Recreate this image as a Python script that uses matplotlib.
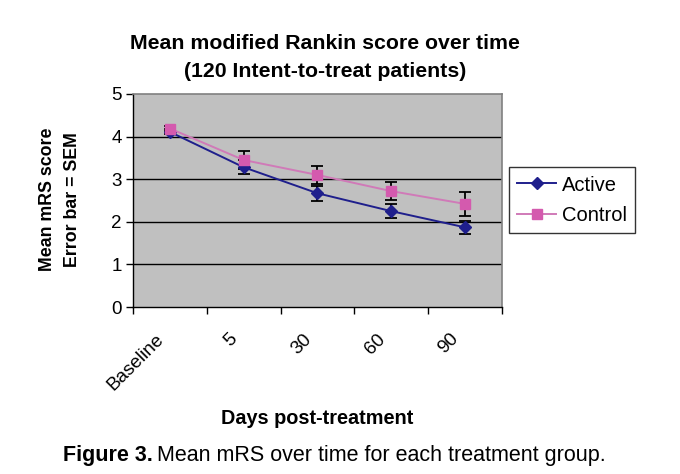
import matplotlib.pyplot as plt
import matplotlib.transforms as mtransforms
import numpy as np

plt.rcParams['font.family'] = ['Liberation Sans', 'DejaVu Sans']

# Data
days = ['Baseline', '5', '30', '60', '90']
active_mean = [4.11, 3.28, 2.67, 2.25, 1.87]
active_sem = [0.06, 0.16, 0.17, 0.16, 0.16]
control_mean = [4.19, 3.45, 3.10, 2.72, 2.42]
control_sem = [0.06, 0.21, 0.22, 0.21, 0.28]

x = np.arange(len(days))

fig = plt.figure(figsize=(6.8, 4.74), dpi=100)
ax = fig.add_axes([0.1956, 0.3523, 0.5426, 0.4494])
ax.set_facecolor('#C0C0C0')

# horizontal gridlines
for yv in [1, 2, 3, 4]:
    ax.axhline(yv, color='black', linewidth=1, zorder=1)

ax.errorbar(x, active_mean, yerr=active_sem, fmt='none', ecolor='black',
            elinewidth=1.3, capsize=4, capthick=1.3, zorder=2)
ax.errorbar(x, control_mean, yerr=control_sem, fmt='none', ecolor='black',
            elinewidth=1.3, capsize=4, capthick=1.3, zorder=2)

ax.plot(x, active_mean, color='#1F1F8C', linewidth=1.4, marker='D',
        markersize=6, label='Active', zorder=3)
ax.plot(x, control_mean, color='#D07AB8', linewidth=1.4, marker='s',
        markersize=6.5, markerfacecolor='#D45AAE', markeredgecolor='#D45AAE',
        label='Control', zorder=4)

ax.set_xlim(-0.5, 4.5)
ax.set_ylim(0, 5)
ax.set_yticks([0, 1, 2, 3, 4, 5])
ax.set_xticks(np.arange(-0.5, 5.0, 1.0))
ax.set_xticklabels([])
ax.set_xticks(x, minor=True)
ax.set_xticklabels(days, minor=True, rotation=45, ha='right', va='top',
                   rotation_mode='anchor', fontsize=13.6)
ax.tick_params(axis='x', which='minor', length=0, pad=14)
ax.tick_params(axis='x', which='major', direction='out', length=5, width=1)
ax.tick_params(axis='y', direction='out', length=5, width=1, labelsize=13.5, pad=3)

# nudge the rotated labels left/down like the original
shift = mtransforms.ScaledTranslation(-15 / 100, -4 / 100, fig.dpi_scale_trans)
for lbl in ax.get_xticklabels(minor=True):
    lbl.set_transform(lbl.get_transform() + shift)

for s in ['top', 'right']:
    ax.spines[s].set_color('#808080')
    ax.spines[s].set_linewidth(1.2)
for s in ['left', 'bottom']:
    ax.spines[s].set_color('black')
    ax.spines[s].set_linewidth(1)

leg = ax.legend(loc='upper left', bbox_to_anchor=(1.02, 0.655), fontsize=14.5,
                frameon=True, fancybox=False, edgecolor='black',
                handlelength=1.9, borderpad=0.4, labelspacing=0.55,
                handletextpad=0.3, borderaxespad=0)
leg.get_frame().set_linewidth(1)

fig.text(0.478, 0.909, 'Mean modified Rankin score over time',
         ha='center', va='center', fontsize=15.3, fontweight='bold')
fig.text(0.478, 0.850, '(120 Intent-to-treat patients)',
         ha='center', va='center', fontsize=15.3, fontweight='bold')

fig.text(0.070, 0.58, 'Mean mRS score', rotation=90, ha='center',
         va='center', fontsize=12.8, fontweight='bold')
fig.text(0.107, 0.58, 'Error bar = SEM', rotation=90, ha='center',
         va='center', fontsize=12.8, fontweight='bold')

fig.text(0.467, 0.118, 'Days post-treatment', ha='center', va='center',
         fontsize=14.3, fontweight='bold')

# caption: bold part then regular part
cap1 = fig.text(0.092, 0.04, 'Figure 3.', ha='left', va='center',
                fontsize=15.5, fontweight='bold')
fig.canvas.draw()
bb = cap1.get_window_extent().transformed(fig.transFigure.inverted())
fig.text(bb.x1 + 0.006, 0.04, 'Mean mRS over time for each treatment group.',
         ha='left', va='center', fontsize=15.5)

fig.savefig('out.png', dpi=100)
